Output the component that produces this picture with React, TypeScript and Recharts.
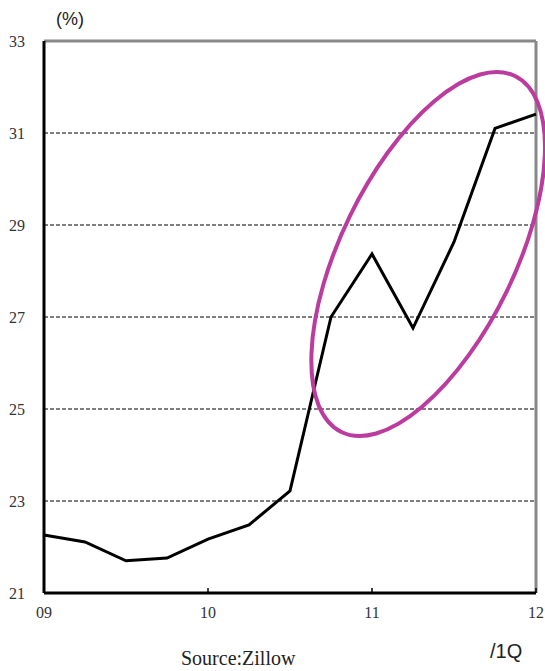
import React from "react";
import {
  LineChart,
  Line,
  XAxis,
  YAxis,
  CartesianGrid,
  ReferenceLine,
  ReferenceDot,
} from "recharts";

// quarterly share (%), 09/1Q .. 12/1Q
const quarters = [
  "09/1Q", "09/2Q", "09/3Q", "09/4Q",
  "10/1Q", "10/2Q", "10/3Q", "10/4Q",
  "11/1Q", "11/2Q", "11/3Q", "11/4Q",
  "12/1Q",
];
const shareValues = [
  22.26, 22.11, 21.7, 21.76, 22.17, 22.48, 23.22, 27.0, 28.37, 26.76, 28.63, 31.1, 31.41,
];
const xTickLabels = ["09", "10", "11", "12"];
const yTicks = [21, 23, 25, 27, 29, 31, 33];
const gridValues = [23, 25, 27, 29, 31];

// highlight ellipse centre, in data units (quarter index, %)
const highlightCenter = { x: 9.37, y: 28.37 };

const chartData = quarters.map((q, i) => ({ idx: i, label: q, value: shareValues[i] }));

const serif = "'Liberation Serif', 'DejaVu Serif', serif";
const sans = "'Liberation Sans', Arial, sans-serif";

function HighlightEllipse(props: any) {
  const { cx, cy } = props;
  if (cx == null || cy == null) return null;
  return (
    <ellipse
      cx={cx}
      cy={cy}
      rx={198}
      ry={87}
      transform={`rotate(-64 ${cx} ${cy})`}
      fill="none"
      stroke="#bb3b9e"
      strokeWidth={4}
    />
  );
}

export default function App() {
  return (
    <div
      style={{
        position: "absolute",
        left: 0,
        top: 0,
        width: 545,
        height: 671,
        background: "#fff",
        overflow: "hidden",
      }}
    >
      <LineChart
        width={545}
        height={671}
        data={chartData}
        margin={{ top: 41, right: 9, left: 0, bottom: 48 }}
        style={{ overflow: "visible" }}
      >
        <CartesianGrid
          vertical={false}
          horizontalValues={gridValues}
          stroke="#000"
          strokeDasharray="4 2"
          strokeWidth={1.2}
        />
        <XAxis
          dataKey="idx"
          type="number"
          domain={[0, 12]}
          ticks={[0, 4, 8, 12]}
          tickFormatter={(v: number) => xTickLabels[v / 4]}
          height={30}
          axisLine={{ stroke: "#000", strokeWidth: 3 }}
          tickLine={{ stroke: "#000", strokeWidth: 1.5 }}
          tickSize={-5}
          tickMargin={19}
          tick={{ fill: "#333", fontSize: 16, fontFamily: serif }}
        />
        <YAxis
          type="number"
          domain={[21, 33]}
          ticks={yTicks}
          width={44}
          axisLine={{ stroke: "#000", strokeWidth: 3 }}
          tickLine={false}
          tickSize={0}
          tickMargin={19}
          tick={{ fill: "#333", fontSize: 16, fontFamily: serif }}
        />
        <ReferenceLine y={33} stroke="#888" strokeWidth={3} />
        <ReferenceLine x={12} stroke="#888" strokeWidth={3} />
        <Line
          type="linear"
          dataKey="value"
          stroke="#000"
          strokeWidth={3}
          dot={false}
          isAnimationActive={false}
        />
        <ReferenceDot
          x={highlightCenter.x}
          y={highlightCenter.y}
          ifOverflow="visible"
          shape={HighlightEllipse}
        />
      </LineChart>
      <div style={{ position: "absolute", left: 56, top: 9, fontFamily: sans, fontSize: 18, color: "#222" }}>
        (%)
      </div>
      <div style={{ position: "absolute", left: 490, top: 640, fontFamily: sans, fontSize: 20, color: "#222" }}>
        /1Q
      </div>
      <div style={{ position: "absolute", left: 181, top: 647, fontFamily: serif, fontSize: 20, color: "#222" }}>
        Source:Zillow
      </div>
    </div>
  );
}
